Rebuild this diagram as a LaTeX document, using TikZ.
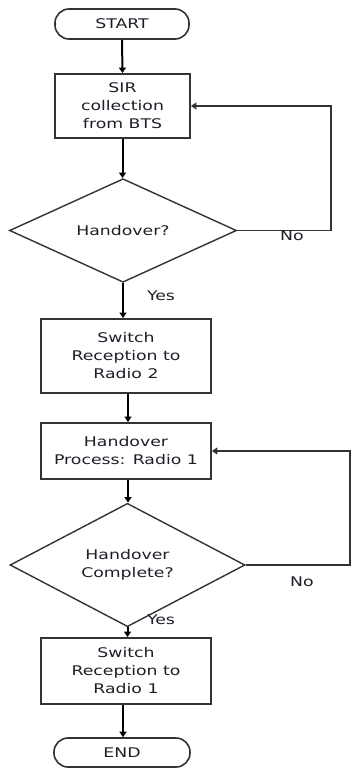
\documentclass[tikz,border=0pt]{standalone}
\usepackage{fontspec}
\setmainfont[FakeStretch=1.3]{DejaVu Sans}
\usetikzlibrary{shapes.geometric,arrows.meta}
\definecolor{edge}{HTML}{333333}
\definecolor{ink}{HTML}{1E1E28}
\begin{document}
\begin{tikzpicture}[x=1pt,y=-1pt,
  every node/.style={font=\fontsize{13.3}{18}\selectfont, text=ink},
  terminal/.style={draw=edge, line width=1.6pt, rectangle, rounded corners=14pt, inner sep=0pt},
  procbox/.style={draw=edge, line width=1.9pt, rectangle, inner sep=0pt, align=center},
  decision/.style={draw=edge, line width=1.4pt, diamond, inner sep=0pt, align=center},
  flow/.style={draw=black, line width=2pt, -{Triangle[length=5.5pt,width=7pt]}},
  loopback/.style={draw=edge, line width=1.5pt, -{Triangle[length=5.5pt,width=7pt]}},
  tag/.style={font=\fontsize{13.3}{18}\selectfont}]
\useasboundingbox (0,0) rectangle (352,768);

% nodes of the flow
\node[terminal, minimum width=134pt, minimum height=30pt] (start) at (122,24) {START};
\node[procbox, minimum width=135pt, minimum height=64pt] (sir) at (122.5,106) {SIR\\collection\\from BTS};
\node[decision, minimum width=227pt, minimum height=95pt] (ho) at (123,230.5) {Handover?};
\node[procbox, minimum width=170pt, minimum height=74pt] (sw2) at (126,356) {Switch\\Reception to\\Radio 2};
\node[procbox, minimum width=170pt, minimum height=56pt] (proc) at (126,451) {Handover\\Process: Radio 1};
\node[decision, minimum width=235pt, minimum height=94pt] (done) at (127.5,565) {Handover\\Complete?};
\node[procbox, minimum width=170pt, minimum height=66pt] (sw1) at (126,671) {Switch\\Reception to\\Radio 1};
\node[terminal, minimum width=136pt, minimum height=29pt] (end) at (122,752.5) {END};

% turning points of the two loops
\coordinate (c1) at (331,230.5);
\coordinate (c2) at (350,565);

% main flow
\draw[flow] (start.south) -- (sir.north);
\draw[flow] (sir.south) -- (sir.south |- ho.north);
\draw[flow] (ho.south) -- (ho.south |- sw2.north);
\draw[flow] ([xshift=2pt]sw2.south) -- ([xshift=2pt]proc.north);
\draw[flow] ([xshift=2pt]proc.south) -- ([xshift=2pt]proc.south |- done.north);
\draw[flow] (done.south) -- (done.south |- sw1.north);
\draw[flow] ([xshift=-3pt]sw1.south) -- ([xshift=-3pt]sw1.south |- end.north);

% loops back on "No"
\draw[loopback] (ho.east) -- (c1) |- (sir.east);
\draw[loopback] (done.east) -- (c2) |- (proc.east);

% branch labels
\node[tag] (yes1) at (161,296) {Yes};
\node[tag] (no1) at (292,236) {No};
\node[tag] (yes2) at (161,620) {Yes};
\node[tag] (no2) at (302,582) {No};
\end{tikzpicture}
\end{document}
